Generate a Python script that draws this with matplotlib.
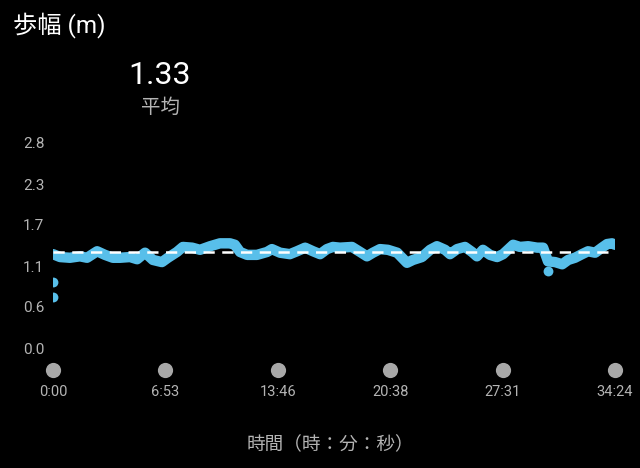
import matplotlib
matplotlib.use("Agg")
import matplotlib.pyplot as plt
import matplotlib.transforms as mtransforms

plt.rcParams['font.family'] = ['Roboto', 'Noto Sans CJK JP', 'DejaVu Sans']

# stride length (m) against elapsed seconds
seconds = [0, 26, 62, 99, 125, 162, 191, 220, 246, 283, 309, 338, 367, 400,
           422, 455, 477, 511, 540, 577, 613, 650, 668, 687, 713, 749, 786,
           804, 834, 870, 896, 926, 955, 981, 1006, 1028, 1054, 1098, 1128,
           1153, 1175, 1201, 1230, 1264, 1282, 1300, 1322, 1355, 1385, 1410,
           1440, 1458, 1484, 1513, 1539, 1557, 1579, 1605, 1631, 1653, 1690,
           1715, 1745, 1778, 1800, 1818, 1844, 1870, 1892, 1917, 1943, 1965,
           1991, 2016, 2035, 2053, 2064]
stride = [1.30, 1.26, 1.25, 1.27, 1.25, 1.34, 1.29, 1.25, 1.25, 1.26, 1.23,
          1.32, 1.22, 1.19, 1.25, 1.33, 1.40, 1.39, 1.36, 1.41, 1.45, 1.45,
          1.43, 1.33, 1.29, 1.29, 1.33, 1.37, 1.32, 1.30, 1.34, 1.39, 1.34,
          1.30, 1.37, 1.40, 1.39, 1.40, 1.33, 1.27, 1.32, 1.37, 1.36, 1.32,
          1.25, 1.18, 1.22, 1.26, 1.36, 1.41, 1.36, 1.30, 1.37, 1.40, 1.33,
          1.27, 1.36, 1.29, 1.26, 1.30, 1.43, 1.40, 1.41, 1.39, 1.39, 1.20,
          1.19, 1.16, 1.22, 1.25, 1.30, 1.34, 1.32, 1.39, 1.44, 1.45, 1.43]
# stray samples off the main trace
stray_seconds = [0, 0, 1818]
stray_stride = [0.91, 0.71, 1.07]

average = 1.33
y_ticks = [0.0, 0.568, 1.136, 1.704, 2.272, 2.84]
x_ticks = [0, 413, 826, 1238, 1651, 2064]
x_labels = ["0:00", "6:53", "13:46", "20:38", "27:31", "34:24"]

BLUE = "#58bfea"
GREY = "#b4b4b4"

fig = plt.figure(figsize=(6.4, 4.68), dpi=100, facecolor="black")
ax = fig.add_axes([53 / 640, 120 / 468, 562 / 640, 205 / 468])
ax.set_facecolor("black")
for s in ax.spines.values():
    s.set_visible(False)

ax.plot(seconds, stride, color=BLUE, lw=7.5, solid_capstyle="round",
        solid_joinstyle="round")
ax.scatter(stray_seconds, stray_stride, s=50, color=BLUE, lw=0, zorder=3)
ax.axhline(average, color="white", lw=1.8, dashes=(4.5, 3), zorder=4)

ax.set_xlim(0, 2064)
ax.set_ylim(0, 2.84)

ax.set_yticks(y_ticks)
ax.set_yticklabels(["%.1f" % v for v in y_ticks])
ax.set_xticks(x_ticks)
ax.set_xticklabels(x_labels)
ax.tick_params(axis="y", length=0, pad=0, labelsize=11, labelcolor=GREY)
ax.tick_params(axis="x", length=0, pad=27, labelsize=10.5, labelcolor=GREY)
for lab in ax.get_yticklabels():
    lab.set_horizontalalignment("left")
    lab.set_x(-30 / 562)

# grey dots under the axis, one per tick
trans = mtransforms.blended_transform_factory(ax.transData, ax.transAxes)
ax.scatter(x_ticks, [-0.107] * len(x_ticks), s=120, color="#a8a8a8",
           lw=0, transform=trans, clip_on=False)

fig.text(13 / 640, 1 - 25 / 468, "歩幅 (m)", color="white", fontsize=17.5,
         va="center", ha="left")
fig.text(160 / 640, 1 - 76 / 468, "%.2f" % average, color="white",
         fontsize=23, va="center", ha="center")
fig.text(160 / 640, 1 - 108 / 468, "平均", color=GREY, fontsize=14,
         va="center", ha="center")
fig.text(330 / 640, 1 - 445 / 468, "時間（時：分：秒）", color=GREY,
         fontsize=13.4, va="center", ha="center")

fig.savefig("out.png", dpi=100, facecolor="black")
